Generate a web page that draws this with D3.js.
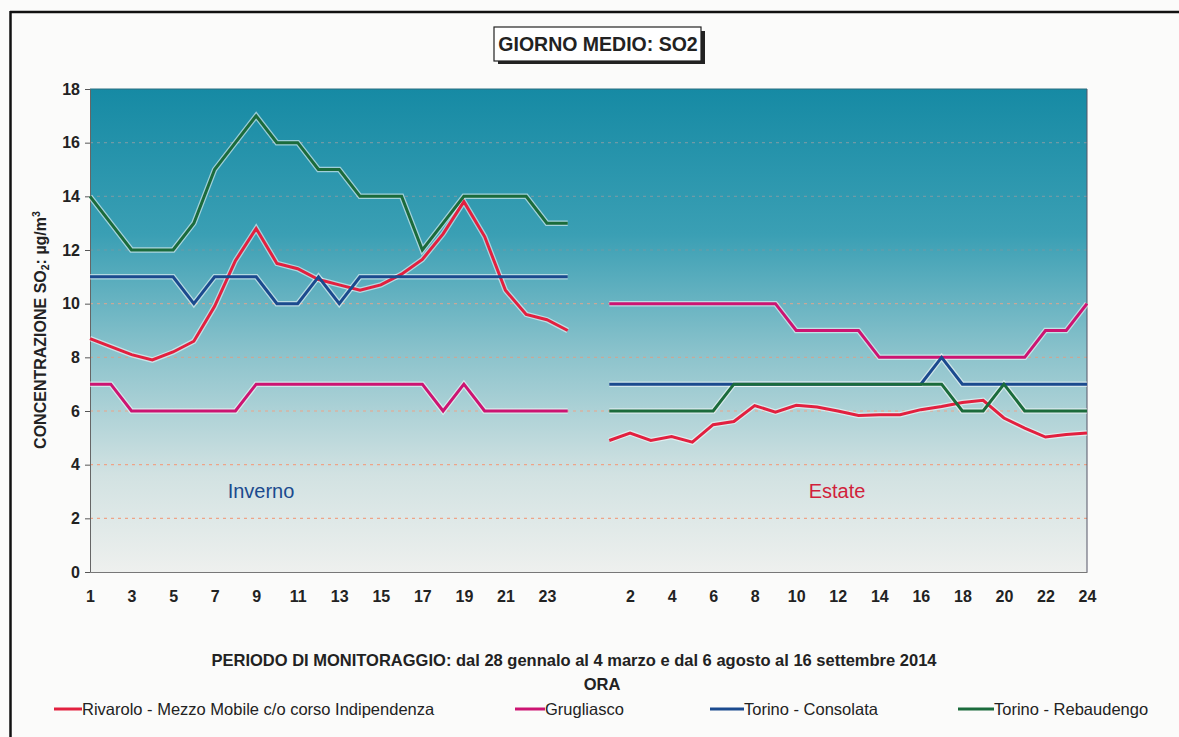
<!DOCTYPE html>
<html><head><meta charset="utf-8">
<script src="https://cdn.jsdelivr.net/npm/d3@7/dist/d3.min.js"></script>
<style>
body{margin:0;background:#fbfbfa;}
svg{display:block;font-family:"Liberation Sans",Arial,sans-serif;}
</style></head><body>
<svg id="c" width="1179" height="737"></svg>
<script>
// ---- data ----
const hoursWinter = d3.range(1,25).map(String);
const hoursSummer = d3.range(1,25).map(String);
const categories = [...hoursWinter, "", ...hoursSummer];
const winterTicks = ["1","3","5","7","9","11","13","15","17","19","21","23"];
const summerTicks = ["2","4","6","8","10","12","14","16","18","20","22","24"];
const yTicks = [0,2,4,6,8,10,12,14,16,18];
const seriesNames = ["Rivarolo - Mezzo Mobile c/o corso Indipendenza","Grugliasco","Torino - Consolata","Torino - Rebaudengo"];
const seriesColors = ["#e2203f","#cc1472","#1b4a8e","#1b6b3b"];

const rivaroloWinter = [8.7,8.4,8.1,7.9,8.2,8.6,9.9,11.6,12.8,11.5,11.3,10.9,10.7,10.5,10.7,11.1,11.65,12.6,13.8,12.5,10.5,9.6,9.4,9.0];
const rivaroloSummer = [4.9,5.18,4.9,5.05,4.84,5.49,5.61,6.2,5.96,6.21,6.15,6.0,5.83,5.86,5.86,6.05,6.17,6.32,6.4,5.74,5.36,5.03,5.12,5.18];
const grugliascoWinter = [7,7,6,6,6,6,6,6,7,7,7,7,7,7,7,7,7,6,7,6,6,6,6,6];
const grugliascoSummer = [10,10,10,10,10,10,10,10,10,9,9,9,9,8,8,8,8,8,8,8,8,9,9,10];
const consolataWinter = [11,11,11,11,11,10,11,11,11,10,10,11,10,11,11,11,11,11,11,11,11,11,11,11];
const consolataSummer = [7,7,7,7,7,7,7,7,7,7,7,7,7,7,7,7,8,7,7,7,7,7,7,7];
const rebaudengoWinter = [14,13,12,12,12,13,15,16,17,16,16,15,15,14,14,14,12,13,14,14,14,14,13,13];
const rebaudengoSummer = [6,6,6,6,6,6,7,7,7,7,7,7,7,7,7,7,7,6,6,7,6,6,6,6];

const series = [
  [...rivaroloWinter, null, ...rivaroloSummer],
  [...grugliascoWinter, null, ...grugliascoSummer],
  [...consolataWinter, null, ...consolataSummer],
  [...rebaudengoWinter, null, ...rebaudengoSummer]
];

// ---- layout ----
const svg = d3.select("#c");
const L=90, R=1087, T=89, B=572;
const idx = d3.range(categories.length);
const x = d3.scalePoint().domain(idx).range([L,R]);
const y = d3.scaleLinear().domain([0,18]).range([B,T]);

// outer frame
svg.append("line").attr("x1",10).attr("x2",1179).attr("y1",12).attr("y2",12).attr("stroke","#111").attr("stroke-width",2.5);
svg.append("line").attr("x1",10.5).attr("x2",10.5).attr("y1",11).attr("y2",737).attr("stroke","#111").attr("stroke-width",2.5);

// gradient
const defs = svg.append("defs");
const g = defs.append("linearGradient").attr("id","bg").attr("x1",0).attr("x2",0).attr("y1",0).attr("y2",1);
g.append("stop").attr("offset","0%").attr("stop-color","#168aa4");
g.append("stop").attr("offset","30%").attr("stop-color","#3a9fb4");
g.append("stop").attr("offset","55%").attr("stop-color","#8cc3cc");
g.append("stop").attr("offset","80%").attr("stop-color","#d2e2e2");
g.append("stop").attr("offset","100%").attr("stop-color","#eef0ee");
svg.append("rect").attr("x",L).attr("y",T).attr("width",R-L).attr("height",B-T).attr("fill","url(#bg)");

// gridlines
svg.append("g").selectAll("line").data(yTicks.filter(v=>v>0&&v<18)).join("line")
  .attr("x1",L).attr("x2",R).attr("y1",d=>y(d)).attr("y2",d=>y(d))
  .attr("stroke",d=> d<=6 ? "#eea488" : (d<=10 ? "#c8a898" : "#6f9aa6"))
  .attr("stroke-width",1.2).attr("stroke-dasharray","3,4");

// plot border right/top
svg.append("line").attr("x1",R).attr("x2",R).attr("y1",T).attr("y2",B).attr("stroke","#556").attr("stroke-width",1);
svg.append("line").attr("x1",L).attr("x2",R).attr("y1",T).attr("y2",T).attr("stroke","#2a6f80").attr("stroke-width",1);

// axes
const yAxis = svg.append("g").attr("transform",`translate(${L},0)`)
  .call(d3.axisLeft(y).tickValues(yTicks).tickSize(5).tickPadding(5));
yAxis.select(".domain").attr("stroke","#666");
yAxis.selectAll(".tick line").attr("stroke","#555");
yAxis.selectAll("text").attr("font-size",16).attr("font-weight","bold").attr("fill","#222").attr("font-family","Liberation Sans, Arial, sans-serif");

const xTickIdx = idx.filter(i => (i<24 && winterTicks.includes(categories[i])) || (i>24 && summerTicks.includes(categories[i])));
const xAxis = svg.append("g").attr("transform",`translate(0,${B})`)
  .call(d3.axisBottom(x).tickValues(xTickIdx).tickFormat(i=>categories[i]).tickSize(0).tickPadding(19));
xAxis.select(".domain").attr("stroke","#777");
xAxis.selectAll("text").attr("font-size",16).attr("font-weight","bold").attr("fill","#222").attr("font-family","Liberation Sans, Arial, sans-serif");

// lines
const line = d3.line().defined(d=>d.v!=null).x(d=>x(d.i)).y(d=>y(d.v));
const order = [0,1,2,3];
order.forEach(k=>{
  const pts = series[k].map((v,i)=>({i,v}));
  svg.append("path").datum(pts).attr("d",line).attr("fill","none")
    .attr("stroke","#ffffff").attr("stroke-opacity",0.55).attr("stroke-width",5.5).attr("stroke-linejoin","miter");
});
order.forEach(k=>{
  const pts = series[k].map((v,i)=>({i,v}));
  svg.append("path").datum(pts).attr("d",line).attr("fill","none")
    .attr("stroke",seriesColors[k]).attr("stroke-width",3).attr("stroke-linejoin","miter");
});

// season labels
svg.append("text").attr("x",261).attr("y",498).attr("text-anchor","middle")
  .attr("font-size",20).attr("fill","#1b4a8e").text("Inverno");
svg.append("text").attr("x",837).attr("y",498).attr("text-anchor","middle")
  .attr("font-size",20).attr("fill","#d11f3c").text("Estate");

// title box
svg.append("rect").attr("x",498).attr("y",31).attr("width",207).attr("height",33).attr("fill","#222");
svg.append("rect").attr("x",494).attr("y",27).attr("width",207).attr("height",34).attr("fill","#fff").attr("stroke","#222").attr("stroke-width",1.2);
svg.append("text").attr("x",598).attr("y",51).attr("text-anchor","middle").attr("font-size",19.5).attr("font-weight","bold").attr("fill","#222").text("GIORNO MEDIO: SO2");

// y label
const yl = svg.append("text").attr("transform","translate(46,330) rotate(-90)").attr("text-anchor","middle")
  .attr("font-size",16).attr("font-weight","bold").attr("fill","#222");
yl.append("tspan").text("CONCENTRAZIONE SO");
yl.append("tspan").attr("font-size",10.5).attr("dy",3).text("2");
yl.append("tspan").attr("dy",-3).text(": µg/m");
yl.append("tspan").attr("font-size",10.5).attr("dy",-6).text("3");

// x titles
svg.append("text").attr("x",574).attr("y",666).attr("text-anchor","middle").attr("font-size",16.5).attr("font-weight","bold").attr("fill","#222")
  .text("PERIODO DI MONITORAGGIO: dal 28 gennalo al 4 marzo e dal 6 agosto al 16 settembre 2014");
svg.append("text").attr("x",602).attr("y",690).attr("text-anchor","middle").attr("font-size",16.5).attr("font-weight","bold").attr("fill","#222").text("ORA");

// legend
const legX = [54,515,710,958];
const legW = [28,30,34,36];
const leg = svg.append("g");
seriesNames.forEach((n,k)=>{
  leg.append("line").attr("x1",legX[k]).attr("x2",legX[k]+legW[k]).attr("y1",709).attr("y2",709).attr("stroke",seriesColors[k]).attr("stroke-width",3);
  leg.append("text").attr("x",legX[k]+legW[k]).attr("y",715).attr("font-size",16.5).attr("fill","#222").text(n);
});
</script>
</body></html>
